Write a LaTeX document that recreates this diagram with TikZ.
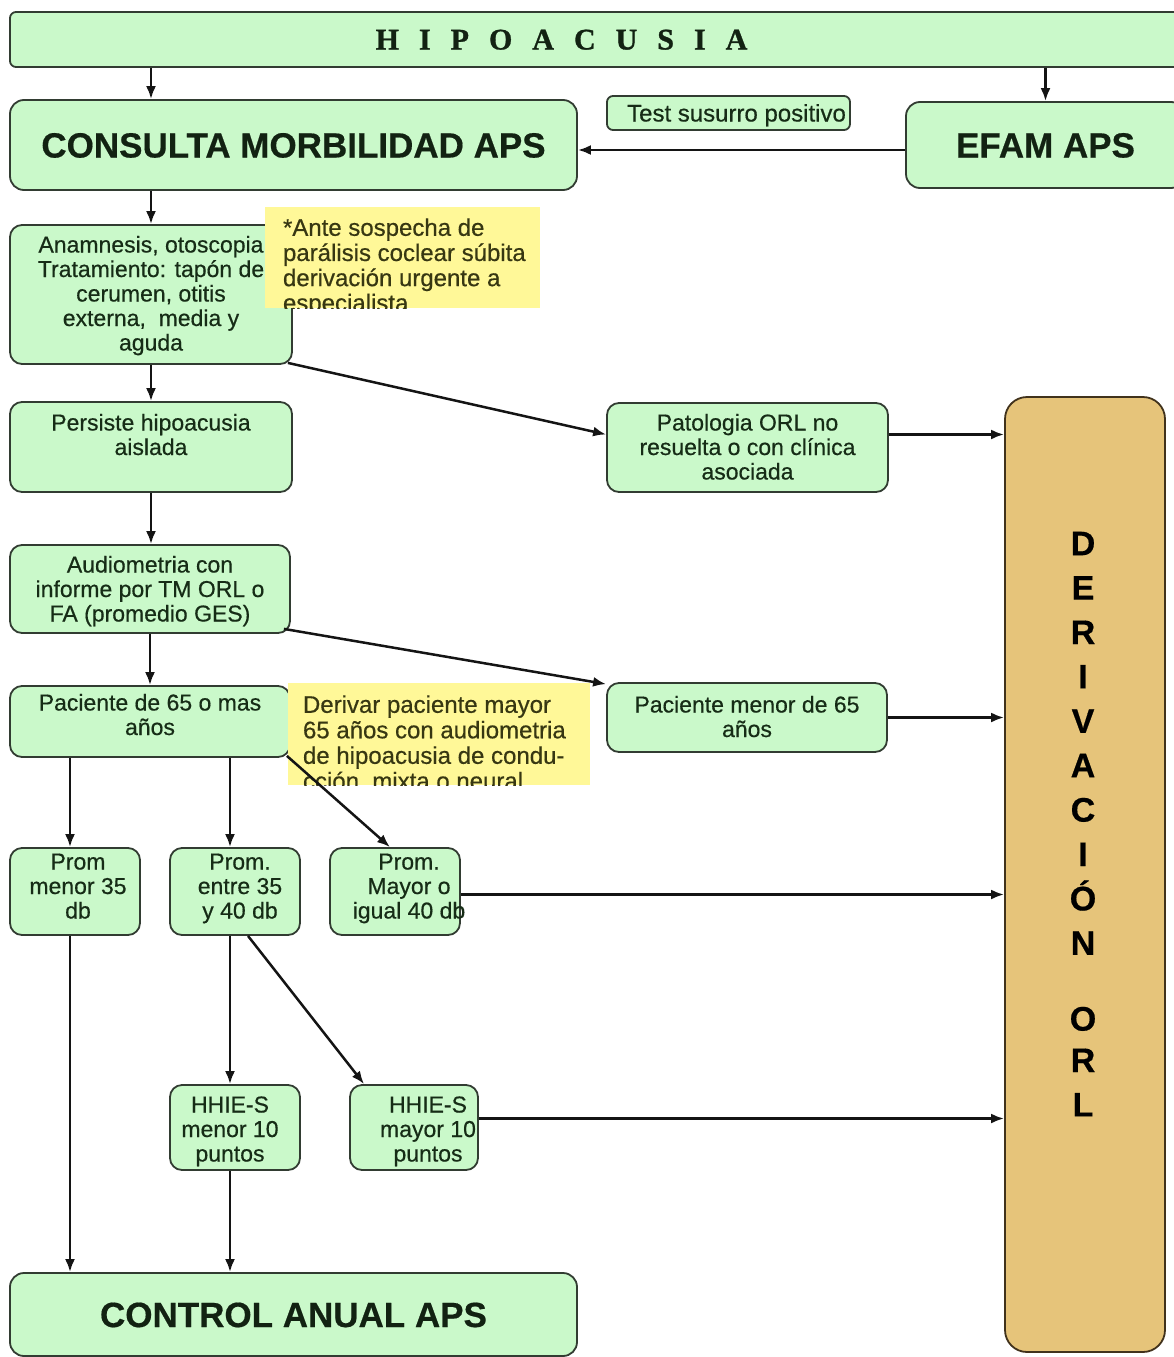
\documentclass[tikz,border=0pt]{standalone}
\usepackage{fontspec}
\setmainfont{Liberation Sans}[FakeBold=0.5]
\newfontfamily\hipfont{Liberation Serif}[FakeBold=1]
\usetikzlibrary{arrows.meta,calc}
\definecolor{boxgreen}{RGB}{202,249,202}
\definecolor{boxline}{RGB}{50,60,50}
\definecolor{txtgreen}{RGB}{22,44,22}
\definecolor{titletxt}{RGB}{18,34,18}
\definecolor{noteyel}{RGB}{255,248,152}
\definecolor{notetxt}{RGB}{55,55,18}
\definecolor{tanfill}{RGB}{230,196,122}
\definecolor{tanline}{RGB}{65,50,28}
% #1 horizontal offset of text centre, #2 raise of first baseline above node centre, #3 lines
\newcommand{\bt}[3]{\makebox[0pt]{\hspace*{#1}\hspace*{#1}\raisebox{#2}[0pt][0pt]{\begin{tabular}[t]{@{}c@{}}#3\end{tabular}}}}
\newcommand{\nt}[1]{\begin{tabular}[t]{@{}l@{}}#1\end{tabular}}
\newcommand{\hs}{\hspace{20pt}}
\begin{document}
\begin{tikzpicture}[x=1pt,y=-1pt,
  box/.style={draw=boxline, fill=boxgreen, line width=1.8pt, rounded corners=12pt,
    inner sep=0pt, text=txtgreen, font=\fontsize{23}{24.5}\selectfont},
  titlebox/.style={box, rounded corners=14pt, text=titletxt,
    font=\fontsize{35}{40}\selectfont\bfseries},
  notebox/.style={fill=noteyel, inner sep=0pt},
  notetext/.style={anchor=base west, inner sep=0pt, text=notetxt},
  arr/.style={line width=2.5pt, draw=black!92, -{Latex[length=13pt,width=10pt]}}]
\useasboundingbox (0,0) rectangle (1173,1357);

% boxes
\node[box, rounded corners=6pt, minimum width=1175pt, minimum height=55pt, text=titletxt,
  font=\hipfont\fontsize{30}{32}\selectfont\bfseries] (hip) at (597.5,39.5)
  {\bt{-36pt}{-10pt}{H\hs I\hs P\hs O\hs A\hs C\hs U\hs S\hs I\hs A}};
\node[titlebox, minimum width=567pt, minimum height=90pt] (cons) at (293.5,145)
  {\bt{0pt}{-12.5pt}{CONSULTA MORBILIDAD APS}};
\node[box, rounded corners=6pt, minimum width=243pt, minimum height=34pt,
  font=\fontsize{24}{25}\selectfont] (test) at (728.5,113)
  {\bt{8pt}{-8.5pt}{Test susurro positivo}};
\node[titlebox, minimum width=279pt, minimum height=86pt] (efam) at (1045.5,145)
  {\bt{0pt}{-12.5pt}{EFAM APS}};
\node[box, minimum width=282pt, minimum height=139pt] (anam) at (151,294.5)
  {\bt{0pt}{42pt}{Anamnesis, otoscopia\\Tratamiento: tapón de\\cerumen, otitis\\externa,\ \ media y\\aguda}};
\node[box, minimum width=282pt, minimum height=90pt] (pers) at (151,447)
  {\bt{0pt}{16.5pt}{Persiste hipoacusia\\aislada}};
\node[box, minimum width=281pt, minimum height=89pt] (pato) at (747.5,447.5)
  {\bt{0pt}{17pt}{Patologia ORL no\\resuelta o con clínica\\asociada}};
\node[box, minimum width=280pt, minimum height=88pt] (audio) at (150,589)
  {\bt{0pt}{16.5pt}{Audiometria con\\informe por TM ORL o\\FA (promedio GES)}};
\node[box, minimum width=280pt, minimum height=71pt] (pac65) at (150,721.5)
  {\bt{0pt}{11pt}{Paciente de 65 o mas\\años}};
\node[box, minimum width=280pt, minimum height=69pt] (pacm) at (747,717.5)
  {\bt{0pt}{5pt}{Paciente menor de 65\\años}};
\node[box, minimum width=130pt, minimum height=87pt] (prom1) at (75,891.5)
  {\bt{3pt}{22pt}{Prom\\menor 35\\db}};
\node[box, minimum width=130pt, minimum height=87pt] (prom2) at (235,891.5)
  {\bt{5pt}{22pt}{Prom.\\entre 35\\y 40 db}};
\node[box, minimum width=130pt, minimum height=87pt] (prom3) at (395,891.5)
  {\bt{14pt}{22pt}{Prom.\\Mayor o\\igual 40 db}};
\node[box, minimum width=130pt, minimum height=85pt] (hh1) at (235,1127.5)
  {\bt{-5pt}{15pt}{HHIE-S\\menor 10\\puntos}};
\node[box, minimum width=128pt, minimum height=85pt] (hh2) at (414,1127.5)
  {\bt{14pt}{15pt}{HHIE-S\\mayor 10\\puntos}};
\node[titlebox, minimum width=567pt, minimum height=83pt] (ctrl) at (293.5,1314.5)
  {\bt{0pt}{-12.5pt}{CONTROL ANUAL APS}};
\node[box, draw=tanline, fill=tanfill, rounded corners=22pt, minimum width=160pt,
  minimum height=955pt, text=black, font=\fontsize{34}{44.4}\selectfont\bfseries] (deriv) at (1085,874.5)
  {\bt{-2pt}{319.3pt}{D\\E\\R\\I\\V\\A\\C\\I\\Ó\\N\\[-10pt] \\[-3pt]O\\[-3pt]R\\L}};

% notes (text clipped by the yellow box)
\node[notebox, minimum width=275pt, minimum height=101pt] (note1) at (402.5,257.5) {};
\begin{scope}
  \clip (note1.south west) rectangle (note1.north east);
  \node[notetext, font=\fontsize{24}{25}\selectfont] (note1txt) at ([xshift=18pt,yshift=-29pt]note1.north west)
    {\nt{*Ante sospecha de\\parálisis coclear súbita\\derivación urgente a\\especialista}};
\end{scope}
\node[notebox, minimum width=302pt, minimum height=102pt] (note2) at (439,734) {};
\begin{scope}
  \clip (note2.south west) rectangle (note2.north east);
  \node[notetext, font=\fontsize{24}{25.5}\selectfont] (note2txt) at ([xshift=15pt,yshift=-30pt]note2.north west)
    {\nt{Derivar paciente mayor\\65 años con audiometria\\de hipoacusia de condu-\\cción, mixta o neural}};
\end{scope}

% helper coordinates
\coordinate (c1) at ([xshift=-5pt]prom1.north);
\coordinate (c2) at ([xshift=-5pt]prom2.north);
\coordinate (p1) at ([yshift=13pt]pato.east);
\coordinate (p2) at (pacm.east);
\coordinate (p3) at ([yshift=-3pt]prom3.east);
\coordinate (p4) at ([yshift=9pt]hh2.east);

% connectors
\draw[arr] (hip.south -| anam.north) -- (cons.north -| anam.north);
\draw[arr] (hip.south -| efam.north) -- (efam.north);
\draw[arr] ([yshift=-5pt]efam.west) -- ([yshift=-5pt]cons.east);
\draw[arr] (cons.south -| anam.north) -- (anam.north);
\draw[arr] (anam.south) -- (pers.north);
\draw[arr] ([xshift=-5pt,yshift=2pt]anam.south east) -- ([yshift=13pt]pato.west);
\draw[arr] (p1) -- (p1 -| deriv.west);
\draw[arr] (pers.south) -- (pers.south |- audio.north);
\draw[arr] (audio.south) -- (audio.south |- pac65.north);
\draw[arr] ([xshift=-7pt,yshift=5pt]audio.south east) -- ([yshift=-2pt]pacm.north west);
\draw[arr] (p2) -- (p2 -| deriv.west);
\draw[arr] (pac65.south -| c1) -- (c1);
\draw[arr] (pac65.south -| c2) -- (c2);
\draw[arr] ([xshift=-4pt,yshift=2pt]pac65.south east) -- ([xshift=-5pt]prom3.north);
\draw[arr] (p3) -- (p3 -| deriv.west);
\draw[arr] (prom1.south -| c1) -- (ctrl.north -| c1);
\draw[arr] (prom2.south -| c2) -- (hh1.north -| c2);
\draw[arr] ([xshift=13pt]prom2.south) -- ([xshift=15pt]hh2.north west);
\draw[arr] (p4) -- (p4 -| deriv.west);
\draw[arr] (hh1.south -| c2) -- (ctrl.north -| c2);
\end{tikzpicture}
\end{document}
